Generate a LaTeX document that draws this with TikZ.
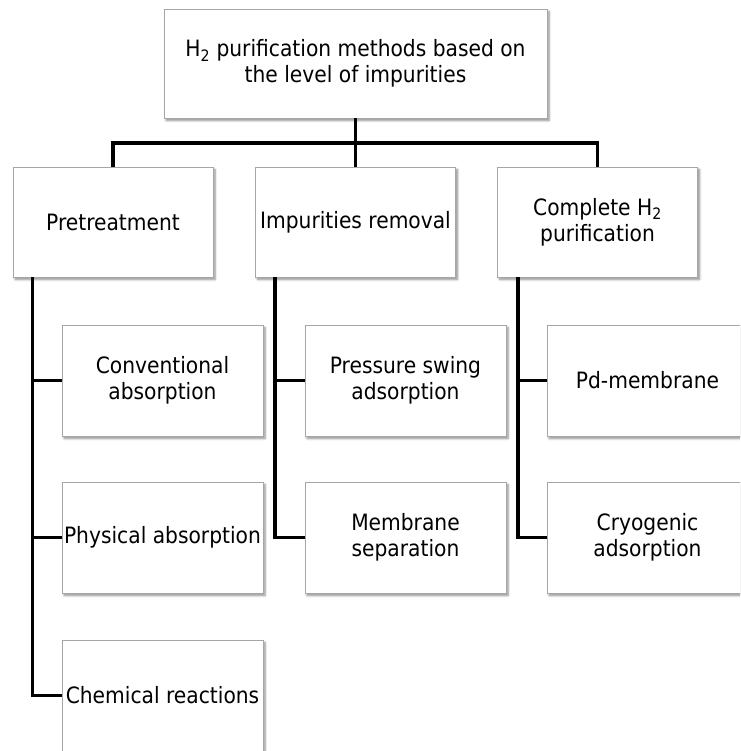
\documentclass[tikz,border=0pt]{standalone}
\usepackage{fontspec}
\setmainfont{DejaVu Sans Condensed}
\usetikzlibrary{shadows.blur}
\begin{document}
\begin{tikzpicture}[x=1pt,y=-1pt,
  box/.style={draw=black!35, line width=0.8pt, fill=white, align=center,
    font=\fontsize{22.5}{26}\selectfont, inner sep=2pt,
    blur shadow={shadow xshift=2pt, shadow yshift=-2.5pt, shadow blur steps=6, shadow opacity=45}},
  topbox/.style={box, minimum width=383pt, minimum height=109pt},
  midbox/.style={box, minimum width=200pt, minimum height=110pt},
  leafbox/.style={box, minimum width=201pt, minimum height=111pt},
  conn/.style={draw=black, line width=3.5pt}]
\useasboundingbox (0,0) rectangle (740,751);
\clip (0,0) rectangle (740,751);
\node[topbox] (top) at (355.5,63.5) {H\textsubscript{2} purification methods based on\\the level of impurities};
\node[midbox] (pre) at (113,222) {Pretreatment};
\node[midbox] (imp) at (355.5,222) {Impurities removal};
\node[midbox] (comp) at (597.5,222) {Complete H\textsubscript{2}\\purification};
\node[leafbox] (conv) at (162.5,380.5) {Conventional\\absorption};
\node[leafbox] (phys) at (162.5,537.5) {Physical absorption};
\node[leafbox] (chem) at (162.5,695.5) {Chemical reactions};
\node[leafbox] (psa) at (405.5,380.5) {Pressure swing\\adsorption};
\node[leafbox] (mem) at (405.5,537.5) {Membrane\\separation};
\node[leafbox] (pd) at (647.5,380.5) {Pd-membrane};
\node[leafbox] (cryo) at (647.5,537.5) {Cryogenic\\adsorption};
\coordinate (bus) at (355.5,143);
\draw[conn] (top.south) -- (imp.north);
\draw[conn] (pre.north) |- (bus) -| (comp.north);
\coordinate (c1) at ([xshift=20pt]pre.south west);
\coordinate (c2) at ([xshift=20pt]imp.south west);
\coordinate (c3) at ([xshift=21pt]comp.south west);
\draw[conn] (c1) |- (conv.west);
\draw[conn] (c1) |- (phys.west);
\draw[conn] (c1) |- (chem.west);
\draw[conn] (c2) |- (psa.west);
\draw[conn] (c2) |- (mem.west);
\draw[conn] (c3) |- (pd.west);
\draw[conn] (c3) |- (cryo.west);
\end{tikzpicture}
\end{document}
